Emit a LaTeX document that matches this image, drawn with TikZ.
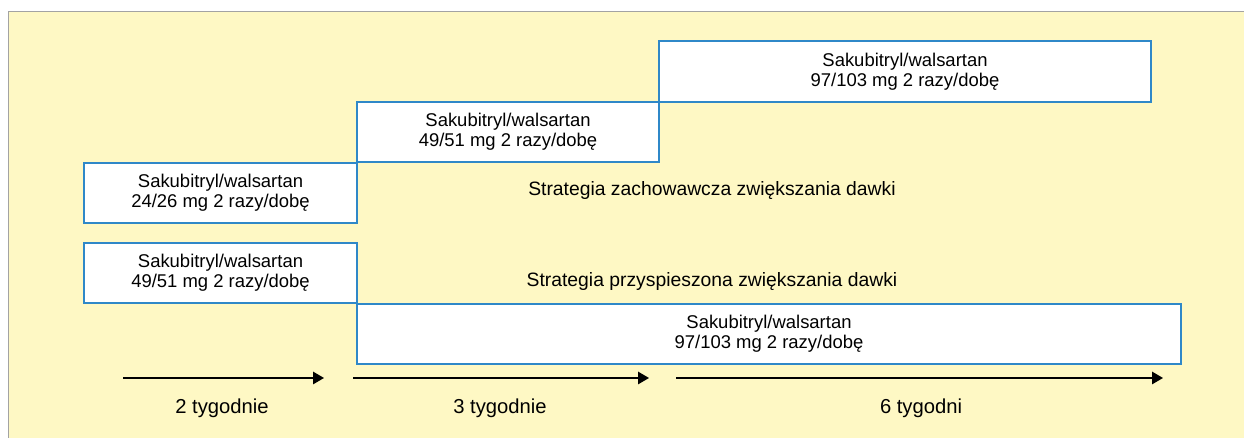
\documentclass[tikz,border=0pt]{standalone}
\usepackage{fontspec}
\setmainfont{Liberation Sans}
\usetikzlibrary{arrows.meta}

\definecolor{bgyellow}{HTML}{FEF8C4}
\definecolor{boxblue}{HTML}{2F88C8}
\definecolor{framegray}{HTML}{A3A3A3}

\tikzset{
    dosebox/.style={draw=boxblue, line width=0.9pt, fill=white, inner sep=0pt,
        minimum height=1.2cm, align=center,
        font=\fontsize{10.5}{11.6}\selectfont},
    strategytext/.style={font=\fontsize{11}{13}\selectfont},
    weektext/.style={font=\fontsize{11.5}{13}\selectfont},
    timearrow/.style={line width=0.8pt, -{Triangle[length=2.2mm,width=2.5mm]}},
}

\begin{document}
\begin{tikzpicture}
    \useasboundingbox (0,0) rectangle (24.88,8.76);
    % Draw background
    \fill[bgyellow] (0.17,0) rectangle (24.88,8.53);
    \draw[framegray, line width=1pt] (0.17,0) -- (0.17,8.53) -- (24.88,8.53);

    % Dose boxes
    \node[dosebox, minimum width=5.46cm] (low) at (4.41,4.90)
        {Sakubitryl/walsartan\\24/26 mg 2 razy/dobę};
    \node[dosebox, minimum width=6.04cm] (mid) at (10.16,6.12)
        {Sakubitryl/walsartan\\49/51 mg 2 razy/dobę};
    \node[dosebox, minimum width=9.84cm, minimum height=1.22cm] (high) at (18.10,7.33)
        {Sakubitryl/walsartan\\97/103 mg 2 razy/dobę};
    \node[dosebox, minimum width=5.46cm] (fastmid) at (4.41,3.30)
        {Sakubitryl/walsartan\\49/51 mg 2 razy/dobę};
    \node[dosebox, minimum width=16.48cm] (fasthigh) at (15.38,2.08)
        {Sakubitryl/walsartan\\97/103 mg 2 razy/dobę};

    % Strategy labels
    \node[strategytext] (slow) at (14.24,4.94) {Strategia zachowawcza zwiększania dawki};
    \node[strategytext] (fast) at (14.24,3.12) {Strategia przyspieszona zwiększania dawki};

    % Time arrows and week labels
    \foreach \xa/\xb [count=\i] in {2.46/6.48,7.06/12.98,13.52/23.26} {
        \coordinate (s\i) at (\xa,1.20);
        \coordinate (e\i) at (\xb,1.20);
        \draw[timearrow] (s\i) -- (e\i);
    }
    \node[weektext] (w1) at (4.44,0.60) {2 tygodnie};
    \node[weektext] (w2) at (10.00,0.60) {3 tygodnie};
    \node[weektext] (w3) at (18.42,0.60) {6 tygodni};
\end{tikzpicture}
\end{document}
